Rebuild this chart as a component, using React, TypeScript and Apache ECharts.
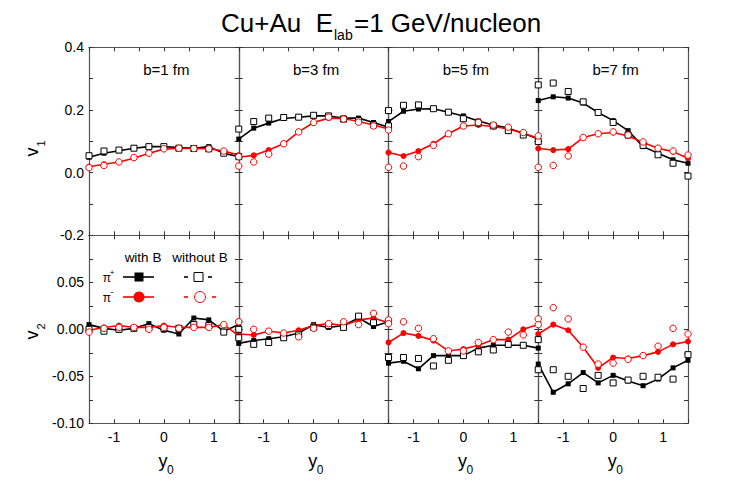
import React, { useEffect, useRef } from "react";
import * as echarts from "echarts";

// rapidity points (shared by all panels)
const rapidity = [-1.5, -1.2, -0.9, -0.6, -0.3, 0, 0.3, 0.6, 0.9, 1.2, 1.5];
const impactLabels = ["b=1 fm", "b=3 fm", "b=5 fm", "b=7 fm"];

// v1, pi+ with magnetic field (one row per impact parameter)
const v1PipWithB = [
  [0.049, 0.062, 0.070, 0.078, 0.083, 0.083, 0.080, 0.078, 0.083, 0.062, 0.051],
  [0.107, 0.142, 0.158, 0.173, 0.177, 0.181, 0.181, 0.174, 0.174, 0.160, 0.145],
  [0.163, 0.196, 0.203, 0.204, 0.193, 0.181, 0.165, 0.152, 0.142, 0.126, 0.107],
  [0.230, 0.242, 0.238, 0.222, 0.192, 0.166, 0.134, 0.083, 0.062, 0.041, 0.030],
];
const v1PipNoB = [
  [0.054, 0.069, 0.072, 0.078, 0.083, 0.083, 0.078, 0.077, 0.076, 0.062, 0.051],
  [0.139, 0.163, 0.174, 0.176, 0.177, 0.183, 0.181, 0.171, 0.166, 0.152, 0.149],
  [0.198, 0.215, 0.216, 0.204, 0.193, 0.172, 0.158, 0.149, 0.134, 0.120, 0.099],
  [0.280, 0.286, 0.259, 0.226, 0.192, 0.160, 0.120, 0.087, 0.057, 0.030, -0.011],
];
const v1PimWithB = [
  [0.019, 0.027, 0.034, 0.046, 0.062, 0.075, 0.078, 0.077, 0.076, 0.069, 0.056],
  [0.049, 0.055, 0.072, 0.092, 0.130, 0.160, 0.174, 0.173, 0.163, 0.152, 0.139],
  [0.064, 0.053, 0.069, 0.092, 0.124, 0.149, 0.152, 0.147, 0.139, 0.126, 0.110],
  [0.077, 0.072, 0.075, 0.112, 0.124, 0.128, 0.117, 0.096, 0.078, 0.067, 0.046],
];
const v1PimNoB = [
  [0.016, 0.023, 0.034, 0.048, 0.062, 0.076, 0.078, 0.077, 0.076, 0.069, 0.051],
  [0.021, 0.034, 0.059, 0.092, 0.130, 0.160, 0.177, 0.171, 0.161, 0.149, 0.136],
  [0.017, 0.021, 0.051, 0.087, 0.124, 0.149, 0.160, 0.152, 0.145, 0.128, 0.117],
  [0.017, 0.023, 0.053, 0.112, 0.124, 0.130, 0.120, 0.098, 0.078, 0.069, 0.056],
];

// v2
const v2PipWithB = [
  [0.005, 0.001, -0.001, 0.001, 0.006, -0.001, -0.005, 0.012, 0.010, -0.002, 0.005],
  [-0.015, -0.012, -0.010, -0.008, -0.004, 0.005, 0.002, 0.004, 0.012, 0.003, 0.008],
  [-0.036, -0.034, -0.042, -0.028, -0.028, -0.028, -0.020, -0.017, -0.017, -0.017, -0.020],
  [-0.037, -0.067, -0.058, -0.046, -0.057, -0.049, -0.055, -0.060, -0.053, -0.041, -0.033],
];
const v2PipNoB = [
  [0.000, -0.002, 0.000, 0.001, 0.002, 0.001, 0.001, 0.005, 0.004, -0.003, 0.000],
  [-0.009, -0.016, -0.014, -0.009, -0.006, 0.002, 0.004, 0.002, 0.014, 0.007, 0.008],
  [-0.030, -0.030, -0.031, -0.039, -0.033, -0.028, -0.024, -0.022, -0.016, -0.017, -0.011],
  [-0.043, -0.043, -0.050, -0.063, -0.049, -0.057, -0.054, -0.050, -0.051, -0.053, -0.027],
];
const v2PimWithB = [
  [-0.001, 0.002, 0.004, 0.002, 0.002, 0.004, 0.002, 0.002, 0.002, 0.005, -0.007],
  [-0.005, -0.006, -0.002, -0.004, -0.001, 0.004, 0.006, 0.004, 0.010, 0.012, 0.007],
  [-0.014, -0.004, -0.007, -0.012, -0.023, -0.021, -0.017, -0.011, -0.011, 0.000, 0.005],
  [-0.005, 0.005, -0.001, -0.019, -0.041, -0.030, -0.031, -0.028, -0.024, -0.016, -0.013],
];
const v2PimNoB = [
  [-0.003, 0.001, 0.002, 0.002, 0.000, 0.002, 0.001, 0.002, 0.002, 0.005, 0.008],
  [0.008, 0.000, -0.002, -0.004, -0.008, 0.001, 0.006, 0.008, 0.005, 0.017, 0.010],
  [0.006, 0.008, 0.001, -0.010, -0.023, -0.023, -0.014, -0.011, -0.003, -0.006, 0.011],
  [0.005, 0.023, 0.011, -0.019, -0.037, -0.036, -0.032, -0.028, -0.018, 0.001, -0.005],
];

const FONT = "'Liberation Sans', Arial, Helvetica, sans-serif";
const RED = "#ff0000";
const FRAME = "#555";

export default function App() {
  const ref = useRef<HTMLDivElement>(null);

  useEffect(() => {
    if (!ref.current) return;
    const chart = echarts.init(ref.current, undefined, { renderer: "svg" });

    const left0 = 89;
    const pw = 149.75;
    const top0 = 47.3;
    const rh = 188;

    const grids: any[] = [];
    const xAxes: any[] = [];
    const yAxes: any[] = [];
    const series: any[] = [];
    const graphics: any[] = [];

    const axisLine = { show: true, onZero: false, lineStyle: { color: FRAME, width: 1.2 } };
    const tick = { show: true, inside: true, length: 4, lineStyle: { color: "#333", width: 1 } };
    const lbl = { color: "#000", fontFamily: FONT, fontSize: 14 };

    const rows = [
      { min: -0.2, max: 0.4, interval: 0.1, sets: [v1PipWithB, v1PipNoB, v1PimWithB, v1PimNoB],
        fmt: (v: number) => { const k = Math.round(v * 10); return k % 2 === 0 ? (k / 10).toFixed(1) : ""; } },
      { min: -0.1, max: 0.1, interval: 0.025, sets: [v2PipWithB, v2PipNoB, v2PimWithB, v2PimNoB],
        fmt: (v: number) => { const k = Math.round(v * 40); return k % 2 === 0 && k < 4 ? (k / 40).toFixed(2) : ""; } },
    ];

    rows.forEach((row, r) => {
      for (let c = 0; c < 4; c++) {
        const g = r * 4 + c;
        grids.push({ left: left0 + c * pw, top: top0 + r * rh, width: pw, height: rh });
        xAxes.push({
          type: "value", gridIndex: g, position: "bottom", min: -1.5, max: 1.5, interval: 0.5,
          axisLine, axisTick: tick, splitLine: { show: false },
          axisLabel: {
            show: r === 1, ...lbl, margin: 7,
            formatter: (v: number) => (Math.abs(v - Math.round(v)) < 1e-6 && Math.abs(v) < 1.4 ? String(Math.round(v)) : ""),
          },
        });
        xAxes.push({
          type: "value", gridIndex: g, position: "top", min: -1.5, max: 1.5, interval: 0.5,
          axisLine, axisTick: tick, splitLine: { show: false }, axisLabel: { show: false },
        });
        yAxes.push({
          type: "value", gridIndex: g, position: "left", min: row.min, max: row.max, interval: row.interval,
          axisLine, axisTick: tick, splitLine: { show: false },
          axisLabel: { show: c === 0, ...lbl, margin: 5, showMinLabel: true, showMaxLabel: true, formatter: row.fmt },
        });
        yAxes.push({
          type: "value", gridIndex: g, position: "right", min: row.min, max: row.max, interval: row.interval,
          axisLine, axisTick: tick, splitLine: { show: false }, axisLabel: { show: false },
        });

        const [pipB, pipN, pimB, pimN] = row.sets;
        const mk = (arr: number[]) => rapidity.map((x, i) => [x, arr[c][i]]);
        const base = { type: "line", xAxisIndex: 2 * g, yAxisIndex: 2 * g, clip: false, silent: true };
        series.push({
          ...base, name: "pi+ with B", data: mk(pipB as any), symbol: "rect", symbolSize: 5,
          itemStyle: { color: "#000" }, lineStyle: { color: "#000", width: 1.6 }, z: 2,
        });
        series.push({
          ...base, name: "pi- with B", data: mk(pimB as any), symbol: "circle", symbolSize: 6,
          itemStyle: { color: RED }, lineStyle: { color: RED, width: 1.6 }, z: 2,
        });
        series.push({
          ...base, name: "pi+ without B", data: mk(pipN as any), symbol: "rect", symbolSize: 6,
          itemStyle: { color: "#fff", borderColor: "#000", borderWidth: 1 },
          lineStyle: { opacity: 0 }, z: 3,
        });
        series.push({
          ...base, name: "pi- without B", data: mk(pimN as any), symbol: "circle", symbolSize: 6.5,
          itemStyle: { color: "#fff", borderColor: RED, borderWidth: 1 },
          lineStyle: { opacity: 0 }, z: 3,
        });

        if (r === 0) {
          graphics.push({
            type: "text", x: left0 + c * pw + pw / 2 + 2.5, y: 69,
            style: { text: impactLabels[c], fill: "#000", font: `15px ${FONT}`, align: "center", verticalAlign: "middle" },
          });
        } else {
          const cx = left0 + c * pw + pw / 2;
          graphics.push({
            type: "text", x: cx - 1, y: 461,
            style: { text: "y", fill: "#000", font: `18px ${FONT}`, align: "center", verticalAlign: "middle" },
          });
          graphics.push({
            type: "text", x: cx + 6.5, y: 469.5,
            style: { text: "0", fill: "#000", font: `12px ${FONT}`, align: "center", verticalAlign: "middle" },
          });
        }
      }
    });

    // title
    graphics.push({
      type: "text", x: 221, y: 23,
      style: { text: "Cu+Au  E", fill: "#000", font: `26px ${FONT}`, align: "left", verticalAlign: "middle" },
    });
    graphics.push({
      type: "text", x: 334, y: 35,
      style: { text: "lab", fill: "#000", font: `14px ${FONT}`, align: "left", verticalAlign: "middle" },
    });
    graphics.push({
      type: "text", x: 354, y: 23,
      style: { text: "=1 GeV/nucleon", fill: "#000", font: `26px ${FONT}`, align: "left", verticalAlign: "middle" },
    });

    // rotated v labels
    const vLabel = (x: number, y: number, sub: string) => ({
      type: "group", x, y, rotation: Math.PI / 2,
      children: [
        { type: "text", x: 0, y: 0, style: { text: "v", fill: "#000", font: `18px ${FONT}`, align: "center", verticalAlign: "middle" } },
        { type: "text", x: 8.5, y: 9.5, style: { text: sub, fill: "#000", font: `11px ${FONT}`, align: "center", verticalAlign: "middle" } },
      ],
    });
    graphics.push(vLabel(31.5, 152, "1"));
    graphics.push(vLabel(31.5, 335, "2"));

    // legend
    const t = (text: string, x: number, y: number, size: number, align = "center") => ({
      type: "text", x, y, style: { text, fill: "#000", font: `${size}px ${FONT}`, align, verticalAlign: "middle" },
    });
    graphics.push(t("with B", 143, 257, 13.5));
    graphics.push(t("without B", 200, 257, 13.5));
    graphics.push(t("\u03c0", 107, 277.5, 12));
    graphics.push(t("+", 112, 272.5, 8));
    graphics.push(t("\u03c0", 107, 297.5, 12));
    graphics.push(t("-", 112, 292, 9));
    graphics.push({ type: "line", shape: { x1: 123, y1: 277, x2: 154, y2: 277 }, style: { stroke: "#000", lineWidth: 1.6 } });
    graphics.push({ type: "rect", shape: { x: 134.5, y: 272.5, width: 9, height: 9 }, style: { fill: "#000" } });
    graphics.push({ type: "line", shape: { x1: 184, y1: 277, x2: 188, y2: 277 }, style: { stroke: "#000", lineWidth: 1.6 } });
    graphics.push({ type: "line", shape: { x1: 208, y1: 277, x2: 212, y2: 277 }, style: { stroke: "#000", lineWidth: 1.6 } });
    graphics.push({ type: "rect", shape: { x: 194, y: 272.5, width: 9, height: 9 }, style: { fill: "#fff", stroke: "#000", lineWidth: 1 } });
    graphics.push({ type: "line", shape: { x1: 123, y1: 297, x2: 154, y2: 297 }, style: { stroke: RED, lineWidth: 1.6 } });
    graphics.push({ type: "circle", shape: { cx: 139, cy: 297, r: 5.5 }, style: { fill: RED } });
    graphics.push({ type: "line", shape: { x1: 184, y1: 297, x2: 188, y2: 297 }, style: { stroke: RED, lineWidth: 1.6 } });
    graphics.push({ type: "line", shape: { x1: 212, y1: 297, x2: 216, y2: 297 }, style: { stroke: RED, lineWidth: 1.6 } });
    graphics.push({ type: "circle", shape: { cx: 200, cy: 297, r: 5.5 }, style: { fill: "#fff", stroke: RED, lineWidth: 1 } });

    chart.setOption({
      animation: false,
      backgroundColor: "#fff",
      grid: grids,
      xAxis: xAxes,
      yAxis: yAxes,
      series,
      graphic: graphics,
    });

    return () => chart.dispose();
  }, []);

  return <div ref={ref} style={{ position: "fixed", left: 0, top: 0, width: 747, height: 482 }} />;
}
